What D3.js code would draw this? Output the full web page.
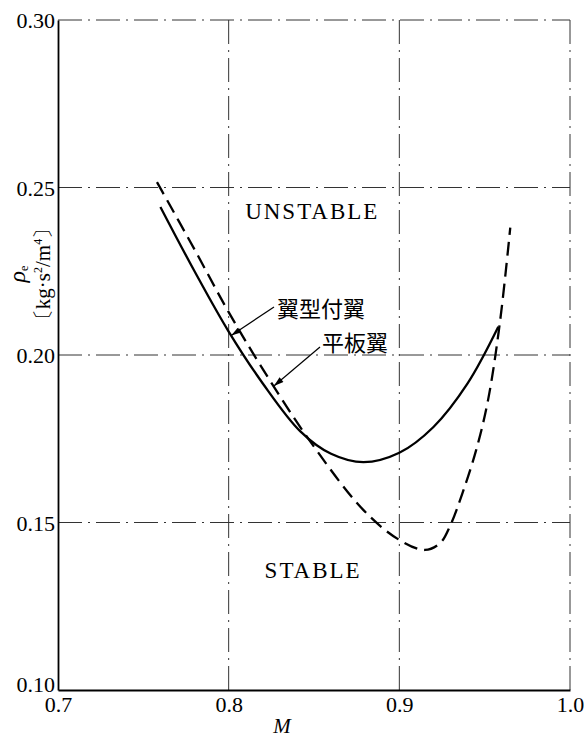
<!DOCTYPE html>
<html><head><meta charset="utf-8">
<script src="https://cdn.jsdelivr.net/npm/d3@7"></script>
<style>
html,body{margin:0;padding:0;background:#fff;}
svg{display:block;}
</style></head>
<body>
<svg id="chart" width="584" height="738"></svg>
<script>
// ---- data ----
const xTicks = [0.7, 0.8, 0.9, 1.0];
const yTicks = [0.10, 0.15, 0.20, 0.25, 0.30];
const xTickLabels = ["0.7", "0.8", "0.9", "1.0"];
const yTickLabels = ["0.10", "0.15", "0.20", "0.25", "0.30"];
// 翼型付翼 (solid)
const airfoilM   = [0.760, 0.780, 0.800, 0.820, 0.842, 0.860, 0.879, 0.900, 0.920, 0.940, 0.958];
const airfoilRho = [0.2442,0.2250,0.2070,0.1915,0.1772,0.1705,0.1680,0.1708,0.1785,0.1915,0.2084];
// 平板翼 (dashed)
const plateM   = [0.758, 0.780, 0.800, 0.820, 0.846, 0.879, 0.900, 0.915, 0.924, 0.930, 0.937, 0.945, 0.952, 0.959, 0.965];
const plateRho = [0.2516,0.2315,0.2128,0.1958,0.1755,0.1537,0.1448,0.1418,0.1439,0.1493,0.1588,0.1716,0.1866,0.2100,0.2380];
const regionLabels = [{text:"UNSTABLE", m:0.849, rho:0.2405}, {text:"STABLE", m:0.8495, rho:0.1335}];
const seriesNames = ["翼型付翼", "平板翼"];

// ---- drawing ----
const svg = d3.select("#chart");
const x = d3.scaleLinear().domain([0.7, 1.0]).range([58, 570]);
const y = d3.scaleLinear().domain([0.10, 0.30]).range([690, 20]);
const serif = "'Liberation Serif','DejaVu Serif',serif";

// grid (dash-dot)
const grid = svg.append("g").attr("stroke", "#333").attr("stroke-width", 1)
  .attr("stroke-dasharray", "24,6,2,6").attr("fill", "none");
grid.selectAll("line.h").data(yTicks.filter(v => v > 0.10)).join("line")
  .attr("x1", x(0.7)).attr("x2", x(1.0)).attr("y1", d => y(d)).attr("y2", d => y(d));
grid.selectAll("line.v").data(xTicks.filter(v => v > 0.7)).join("line")
  .attr("y1", y(0.30)).attr("y2", y(0.10)).attr("x1", d => x(d)).attr("x2", d => x(d));

// axes
const yAxis = d3.axisLeft(y).tickValues(yTicks).tickFormat((d,i) => yTickLabels[i]).tickSize(0).tickPadding(3);
const xAxis = d3.axisBottom(x).tickValues(xTicks).tickFormat((d,i) => xTickLabels[i]).tickSize(0).tickPadding(6);
const gy = svg.append("g").attr("transform", `translate(${x(0.7)},0)`).call(yAxis);
const gx = svg.append("g").attr("transform", `translate(0,${y(0.10)})`).call(xAxis);
[gx, gy].forEach(g => {
  g.select(".domain").attr("stroke", "#000").attr("stroke-width", 1.8);
  g.selectAll("text").attr("font-family", serif).attr("font-size", 22).attr("fill", "#000");
});
gy.selectAll(".tick text").attr("dy", (d) => d === 0.10 ? "0.05em" : "0.35em");
gx.selectAll(".tick text").attr("dy", "0.72em");

// axis titles
svg.append("text").attr("x", 282).attr("y", 733).attr("text-anchor", "middle")
  .attr("font-family", serif).attr("font-style", "italic").attr("font-size", 21).text("M");
const yl = svg.append("g").attr("transform", "translate(0,274) rotate(-90)");
const t1 = yl.append("text").attr("x", 0).attr("y", 25).attr("text-anchor", "middle")
  .attr("font-family", serif).attr("font-size", 24);
t1.append("tspan").attr("font-style", "italic").text("ρ");
t1.append("tspan").attr("font-size", 12).attr("dy", 3).text("e");
const t2 = yl.append("text").attr("x", 0).attr("y", 50).attr("text-anchor", "middle")
  .attr("font-family", serif).attr("font-size", 21);
t2.append("tspan").text("〔kg·s");
t2.append("tspan").attr("font-size", 12).attr("dy", -8).text("2");
t2.append("tspan").attr("dy", 8).text("/m");
t2.append("tspan").attr("font-size", 12).attr("dy", -8).text("4");
t2.append("tspan").attr("dy", 8).text("〕");

// curves
const line = d3.line().x(d => x(d[0])).y(d => y(d[1])).curve(d3.curveCatmullRom.alpha(0.5));
svg.append("path").datum(airfoilM.map((m,i) => [m, airfoilRho[i]]))
  .attr("d", line).attr("fill", "none").attr("stroke", "#000").attr("stroke-width", 2.3);
svg.append("path").datum(plateM.map((m,i) => [m, plateRho[i]]))
  .attr("d", line).attr("fill", "none").attr("stroke", "#000").attr("stroke-width", 2.3)
  .attr("stroke-dasharray", "14,7");

// region labels
svg.selectAll("text.region").data(regionLabels).join("text")
  .attr("x", d => x(d.m)).attr("y", d => y(d.rho)).attr("text-anchor", "middle")
  .attr("font-family", serif).attr("font-size", 23).attr("letter-spacing", 2).text(d => d.text);

// annotations with arrows (tips placed on the curves)
const interp = (ms, rs, m) => { const i = d3.bisectRight(ms, m) - 1; const t = (m - ms[i])/(ms[i+1]-ms[i]); return rs[i] + t*(rs[i+1]-rs[i]); };
const ann = [
  {name: seriesNames[0], tx: 277, ty: 317, from:[274, 307], toM: 0.8015, toRho: interp(airfoilM, airfoilRho, 0.8015)},
  {name: seriesNames[1], tx: 322, ty: 351, from:[320, 347], toM: 0.8265, toRho: interp(plateM, plateRho, 0.8265)}
];
svg.append("defs").append("marker").attr("id", "ah").attr("viewBox", "0 0 10 6")
  .attr("refX", 10).attr("refY", 3).attr("markerWidth", 11).attr("markerHeight", 6)
  .attr("markerUnits", "userSpaceOnUse").attr("orient", "auto")
  .append("path").attr("d", "M0,0 L10,3 L0,6 Z").attr("fill", "#000");
ann.forEach(a => {
  svg.append("line").attr("x1", a.from[0]).attr("y1", a.from[1])
    .attr("x2", x(a.toM)).attr("y2", y(a.toRho)).attr("stroke", "#000").attr("stroke-width", 1.2)
    .attr("marker-end", "url(#ah)");
  svg.append("text").attr("x", a.tx).attr("y", a.ty).attr("font-family", "'Noto Sans CJK JP',sans-serif")
    .attr("font-size", 22).text(a.name);
});
</script>
</body></html>
